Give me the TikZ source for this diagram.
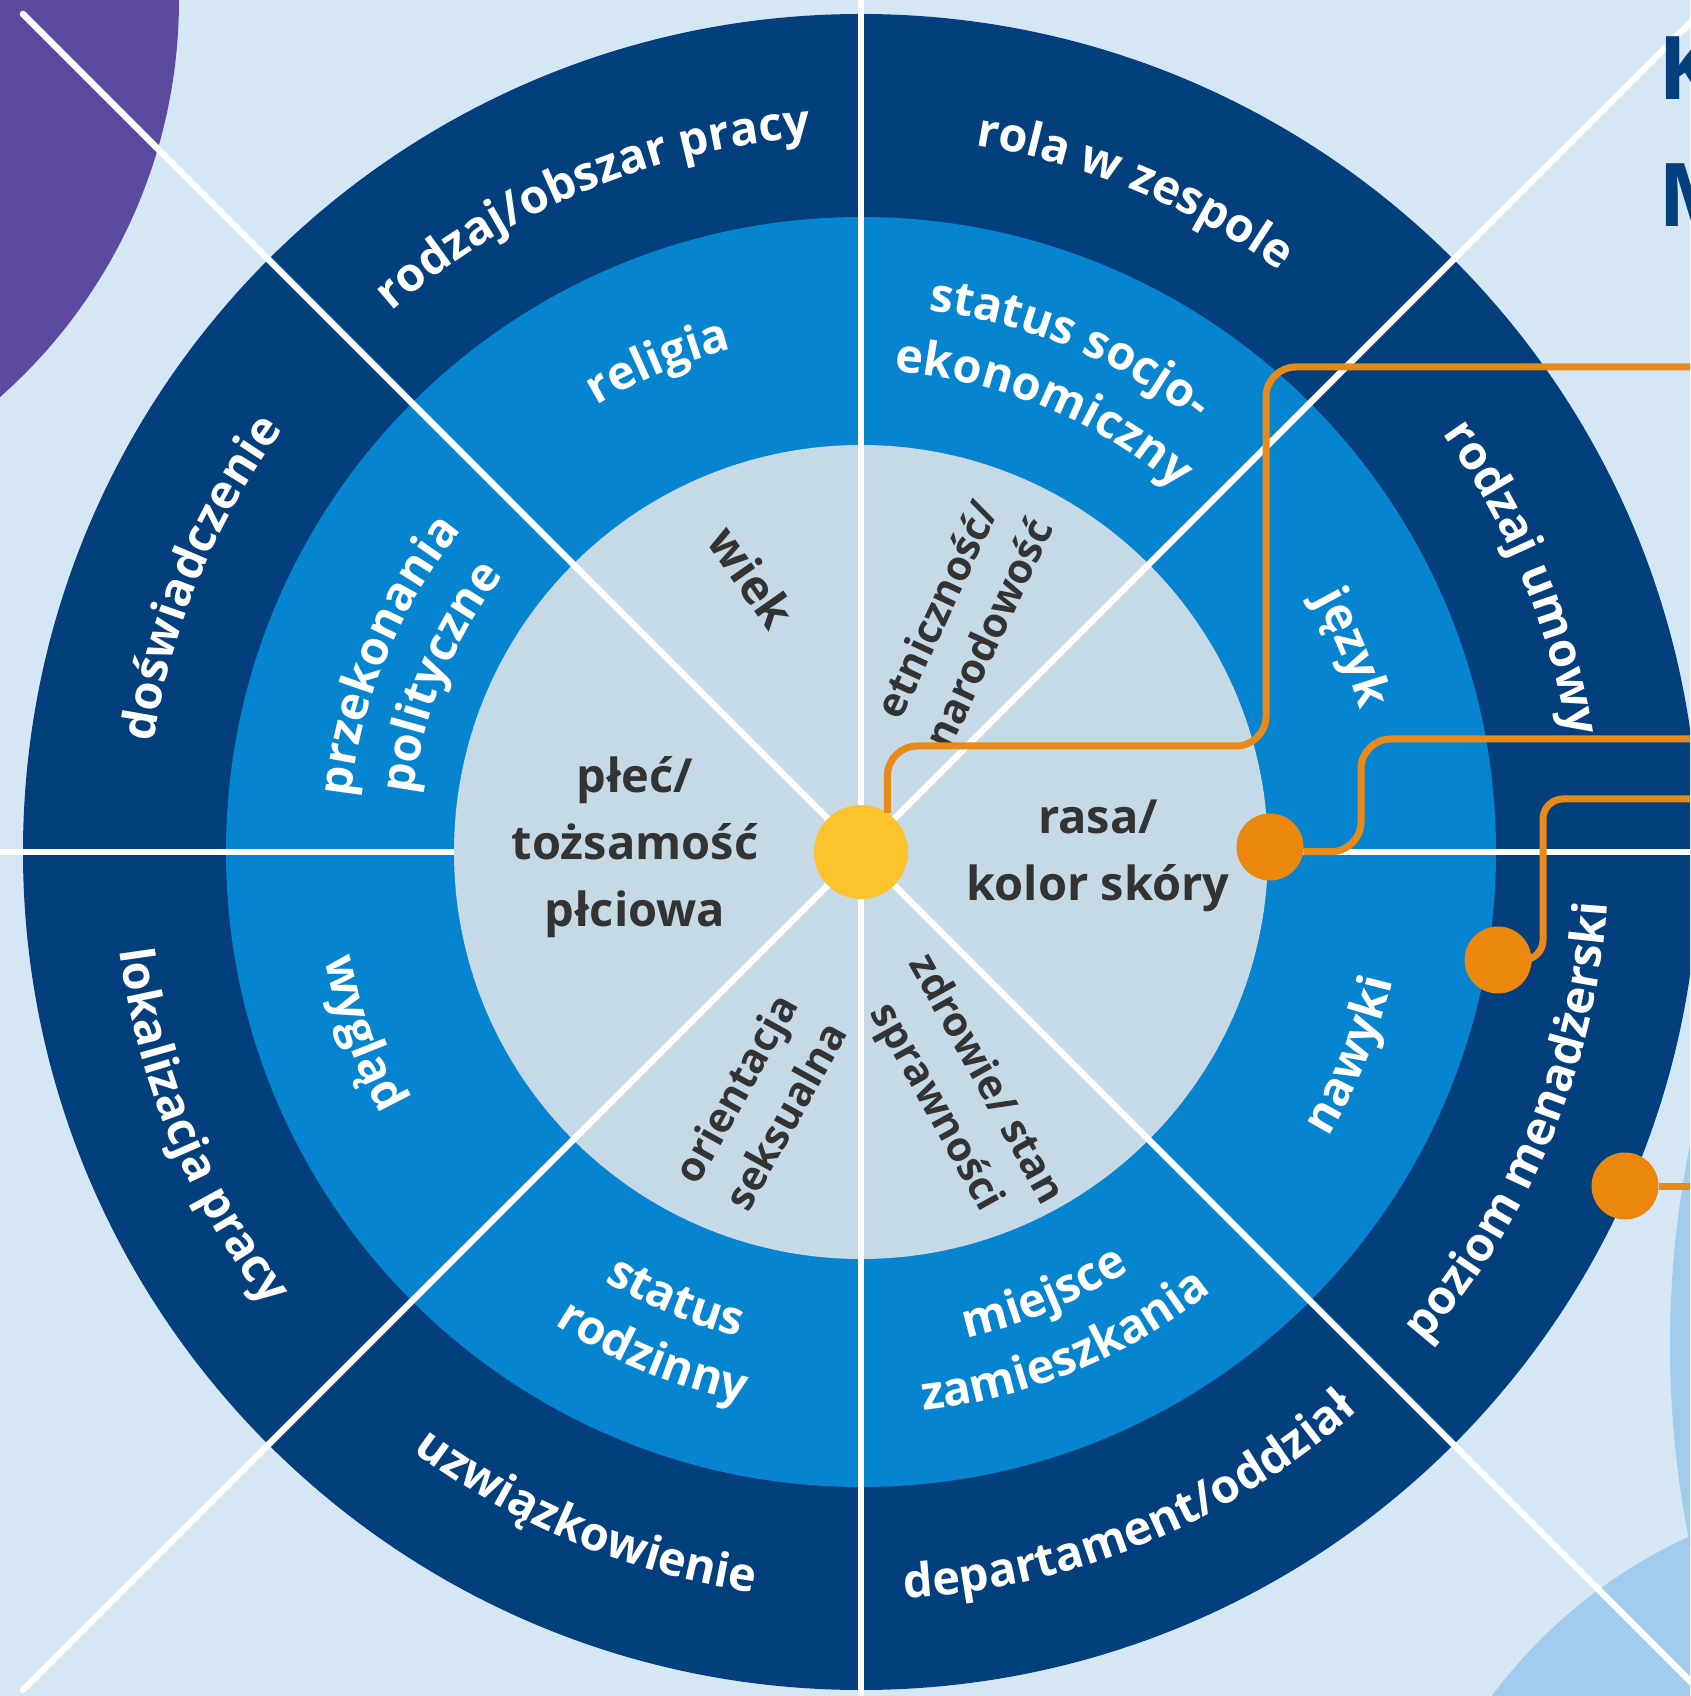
\documentclass[tikz,border=0pt]{standalone}
\usepackage{fontspec}
\setmainfont{Open Sans}
\usetikzlibrary{decorations.text}
\definecolor{bgblue}{HTML}{D5E6F5}
\definecolor{navy}{HTML}{033F7C}
\definecolor{midblue}{HTML}{0684CF}
\definecolor{innergrey}{HTML}{C6D9E7}
\definecolor{sunyellow}{HTML}{FDC32D}
\definecolor{dotorange}{HTML}{EC870E}
\definecolor{lineorange}{HTML}{E88A1A}
\definecolor{purplec}{HTML}{5B4A9F}
\definecolor{paleblue}{HTML}{A2CCEE}
\definecolor{darktext}{HTML}{333333}
\newcommand{\ringfont}{\fontsize{47}{56}\selectfont\bfseries}
\newcommand{\innerfont}{\fontsize{47}{67}\selectfont\bfseries}
\newcommand{\radfont}{\fontsize{41}{57}\selectfont\bfseries}
\newcommand{\titlefont}{\fontsize{88}{100}\selectfont\bfseries}
% text on an arc, upper half (clockwise, tops outward)
\newcommand{\arcup}[3]{% angle, radius, text
  \path[decorate,decoration={text along path,text align=center,text color=white,text={|\ringfont|#3}}]
    ({#1+30}:#2pt) arc[start angle={#1+30},end angle={#1-30},radius=#2pt];}
% text on an arc, lower half (counterclockwise, tops inward)
\newcommand{\arclow}[3]{%
  \path[decorate,decoration={text along path,text align=center,text color=white,text={|\ringfont|#3}}]
    ({#1-30}:#2pt) arc[start angle={#1-30},end angle={#1+30},radius=#2pt];}
\begin{document}
\begin{tikzpicture}[x=1pt,y=1pt,
  wline/.style={white,line width=6.5pt},
  conn/.style={lineorange,line width=7pt,rounded corners=30pt},
  odot/.style={circle,fill=dotorange,minimum size=67pt,inner sep=0pt},
  innertxt/.style={font=\innerfont,text=darktext,align=center,inner sep=0pt},
  radtxt/.style={font=\radfont,text=darktext,align=center,inner sep=0pt},
  titletxt/.style={font=\titlefont,text=navy,inner sep=0pt,anchor=base west}]
\useasboundingbox (-861,-844) rectangle (829,852);
\clip (-861,-844) rectangle (829,852);
\fill[bgblue] (-861,-844) rectangle (829,852);
% decorative shapes
\fill[purplec] (-1212,852) circle[radius=530pt];
\fill[paleblue] (1809,-493) circle[radius=1000pt];
\fill[paleblue] (1039,-1148) circle[radius=509pt];
% wheel
\fill[navy] (0,0) circle[radius=838pt];
\fill[midblue] (0,0) circle[radius=635pt];
\fill[innergrey] (0,0) circle[radius=407pt];
% white dividing lines
\draw[wline,line cap=round] (-838,838) -- (838,-838);
\draw[wline,line cap=round] (-838,-838) -- (838,838);
\draw[wline] (0,860) -- (0,-860);
\draw[wline] (-870,0) -- (-407,0);
\draw[wline] (407,0) -- (840,0);
% outer ring
\arcup{112.5}{716}{rodzaj/obszar pracy}
\arcup{67.5}{716}{rola w zespole}
\arcup{22.5}{716}{rodzaj umowy}
\arcup{157.5}{716}{doświadczenie}
\arclow{-22.5}{748}{poziom menadżerski}
\arclow{-67.5}{748}{departament/oddział}
\arclow{-112.5}{748}{uzwiązkowienie}
\arclow{-157.5}{748}{lokalizacja pracy}
% middle ring
\arcup{112.5}{519}{religia}
\arcup{67.5}{546}{status socjo-}
\arcup{67.5}{481}{ekonomiczny}
\arcup{22.5}{519}{język}
\arcup{157.5}{513}{przekonania}
\arcup{157.5}{452}{polityczne}
\arclow{-22.5}{547}{nawyki}
\arclow{-67.5}{497}{miejsce}
\arclow{-67.5}{562}{zamieszkania}
\arclow{-112.5}{500}{status}
\arclow{-112.5}{563}{rodzinny}
\arclow{-160}{547}{wygląd}
% inner circle
\node[innertxt,rotate=-55] (wiek) at (-109,275) {wiek};
\node[radtxt,rotate=65] (etn) at (101,231) {etniczność/\\narodowość};
\node[innertxt] (plec) at (-226,5) {płeć/\\tożsamość\\płciowa};
\node[innertxt] (rasa) at (237,-4) {rasa/\\kolor skóry};
\node[radtxt,rotate=-61] (zdr) at (99,-242) {zdrowie/ stan\\sprawności};
\node[radtxt,rotate=61] (ori) at (-101,-250) {orientacja\\seksualna};
% centre and markers
\node[circle,fill=sunyellow,minimum size=94pt,inner sep=0pt] (yel) at (0,0) {};
\node[odot] (d2) at (409,5) {};
\node[odot] (d3) at (637,-108) {};
\node[odot] (d4) at (764,-334) {};
\coordinate (b1) at (405,106);
\coordinate (e1) at (840,485);
\coordinate (b2) at (500,113);
\coordinate (e2) at (840,113);
\coordinate (b3) at (682,53);
\coordinate (e3) at (840,53);
\coordinate (e4) at (840,-334);
\draw[conn] (yel.56) |- (b1) |- (e1);
\draw[conn] (d2.-8) -| (b2) -- (e2);
\draw[conn,rounded corners=20pt] (d3.east) -| (b3) -- (e3);
\draw[conn] (d4.east) -- (e4);
% title fragments
\node[titletxt] (tK) at (797,752) {K};
\node[titletxt] (tM) at (797,625) {M};
\end{tikzpicture}
\end{document}
